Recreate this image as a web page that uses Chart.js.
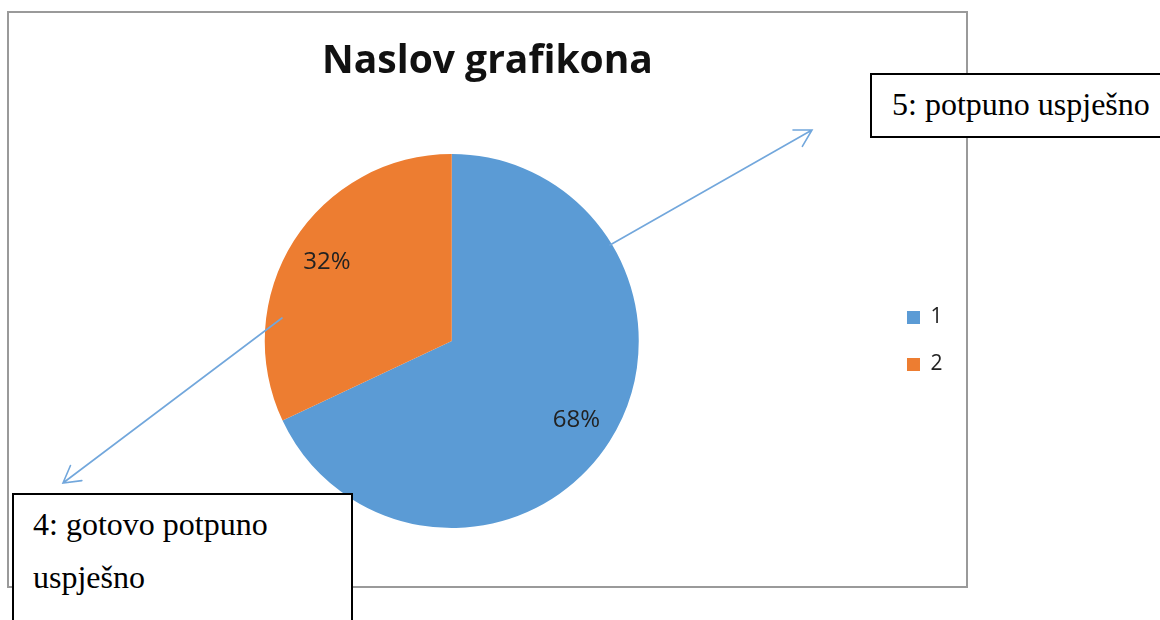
<!DOCTYPE html>
<html>
<head>
<meta charset="utf-8">
<script src="https://cdn.jsdelivr.net/npm/chart.js@4/dist/chart.umd.min.js"></script>
<style>
body{margin:0;background:#fff;width:1160px;height:620px;overflow:hidden;position:relative;font-family:"Open Sans",sans-serif}
.okvir{position:absolute;left:7px;top:11px;width:961px;height:577px;border:2px solid #9a9a9a;box-sizing:border-box}
.okvir canvas{display:block}
.natpis{position:absolute;background:#fff;border:2px solid #000;box-sizing:border-box;font-family:"Liberation Serif",serif;font-size:32px;line-height:53px;color:#000}
#natpis5{left:870px;top:73px;width:320px;height:65px;padding:3px 0 0 20px;white-space:nowrap}
#natpis4{left:12px;top:493px;width:341px;height:140px;padding:3px 0 0 19px}
</style>
</head>
<body>
<div class="okvir"><canvas id="myChart" width="957" height="573"></canvas></div>
<div class="natpis" id="natpis5">5: potpuno uspješno</div>
<div class="natpis" id="natpis4">4: gotovo potpuno uspješno</div>
<script>
// podaci grafikona
const naslov = 'Naslov grafikona';
const kategorije = ['1', '2'];
const vrijednosti = [68, 32];
const boje = ['#5B9BD5', '#ED7D31'];

// strelice preko slike (koordinate stranice), od -> vrh strelice
const strelice = [
    { od: [282, 318], vrh: [63, 483] },
    { od: [610, 245], vrh: [812, 130] }
];
const platnoX = 9, platnoY = 13; // gdje pocinje canvas na stranici

// postoci na kriskama + strelice
const postoci = {
    id: 'postoci',
    afterDatasetsDraw(chart) {
        const ctx = chart.ctx;
        const meta = chart.getDatasetMeta(0);
        const ukupno = vrijednosti.reduce((a, b) => a + b, 0);
        ctx.save();
        ctx.font = '24px "Open Sans"';
        ctx.fillStyle = '#222';
        ctx.textAlign = 'center';
        ctx.textBaseline = 'middle';
        meta.data.forEach((luk, i) => {
            const p = luk.getProps(['x', 'y', 'startAngle', 'endAngle', 'outerRadius']);
            const s = (p.startAngle + p.endAngle) / 2;
            const r = p.outerRadius * 0.79;
            ctx.fillText(Math.round(vrijednosti[i] / ukupno * 100) + '%', p.x + Math.cos(s) * r, p.y + Math.sin(s) * r);
        });

        ctx.strokeStyle = '#72a7dc';
        ctx.lineWidth = 1.6;
        ctx.lineCap = 'round';
        strelice.forEach(s => {
            const x1 = s.od[0] - platnoX, y1 = s.od[1] - platnoY;
            const x2 = s.vrh[0] - platnoX, y2 = s.vrh[1] - platnoY;
            const kut = Math.atan2(y1 - y2, x1 - x2);
            ctx.beginPath();
            ctx.moveTo(x1, y1);
            ctx.lineTo(x2, y2);
            ctx.moveTo(x2 + Math.cos(kut + 0.52) * 19, y2 + Math.sin(kut + 0.52) * 19);
            ctx.lineTo(x2, y2);
            ctx.lineTo(x2 + Math.cos(kut - 0.52) * 19, y2 + Math.sin(kut - 0.52) * 19);
            ctx.stroke();
        });
        ctx.restore();
    }
};

const ctx = document.getElementById('myChart').getContext('2d');
const newChart = new Chart(ctx, {
    type: 'pie',
    data: {
        labels: kategorije,
        datasets: [{
            data: vrijednosti,
            backgroundColor: boje,
            borderWidth: 0
        }]
    },
    options: {
        responsive: false,
        animation: false,
        layout: { padding: { left: 13.5, right: 13.5, top: 0, bottom: 58 } },
        plugins: {
            tooltip: { enabled: false },
            title: {
                display: true,
                text: naslov,
                color: '#111',
                font: { family: '"Open Sans"', size: 39, weight: 'bold' },
                padding: { top: 25.6, bottom: 68.6 }
            },
            legend: {
                position: 'right',
                title: { display: true, text: ' ', font: { size: 10 }, padding: { top: 0, bottom: 129 } },
                labels: {
                    boxWidth: 13,
                    boxHeight: 13,
                    padding: 26,
                    color: '#222',
                    font: { family: '"Open Sans"', size: 21 }
                }
            }
        }
    },
    plugins: [postoci]
});
</script>
</body>
</html>
